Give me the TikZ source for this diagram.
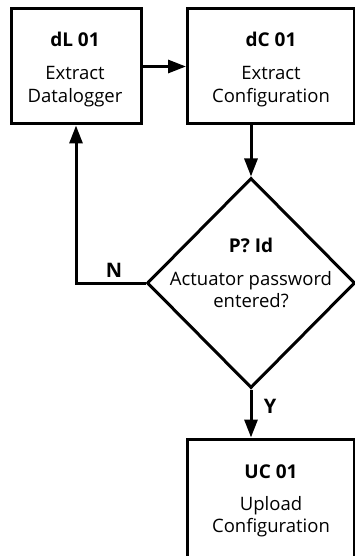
\documentclass[tikz,border=0pt]{standalone}
\usepackage{fontspec}
\setmainfont{Open Sans}
\usetikzlibrary{arrows.meta,shapes.geometric}
\newcommand\myfnt{\fontsize{18.5}{22}\selectfont}
\newcommand\myhead{\fontsize{19}{22}\selectfont\bfseries}
\newcommand\mylbl{\fontsize{20}{22}\selectfont\bfseries}
\begin{document}
\begin{tikzpicture}[x=1pt,y=-1pt,
  box/.style={draw,line width=3pt,rectangle,inner sep=0pt},
  txt/.style={inner sep=0pt,anchor=base,font=\myfnt},
  head/.style={inner sep=0pt,anchor=base,font=\myhead},
  lbl/.style={inner sep=0pt,anchor=base,font=\mylbl},
  arr/.style={line width=3pt,-{Triangle[length=18pt,width=13pt]}}]
\useasboundingbox (0,0) rectangle (355,556);
\clip (0,0) rectangle (355,556);
% boxes
\node[box,minimum width=130pt,minimum height=115pt] (dL) at (76,66.5) {};
\node[box,minimum width=166.5pt,minimum height=115pt] (dC) at (270.75,66.5) {};
\node[draw,line width=3pt,shape=diamond,minimum width=208pt,minimum height=210pt,inner sep=0pt] (dia) at (251,283) {};
\node[box,minimum width=166.5pt,minimum height=120pt] (UC) at (270.75,499) {};
% texts
\node[head] (dLh) at (75,47) {dL 01};
\node[txt] (dL1) at (75,80) {Extract};
\node[txt] (dL2) at (75,103) {Datalogger};
\node[head] (dCh) at (271,47) {dC 01};
\node[txt] (dC1) at (271,80) {Extract};
\node[txt] (dC2) at (271,103) {Configuration};
\node[head] (diah) at (251,252) {P? Id};
\node[txt] (dia1) at (251,285) {Actuator password};
\node[txt] (dia2) at (251,307) {entered?};
\node[head] (UCh) at (271,478) {UC 01};
\node[txt] (UC1) at (271,510) {Upload};
\node[txt] (UC2) at (271,532) {Configuration};
% connectors
\draw[arr] (dL.east) -- (dC.west);
\draw[arr] (dia.north |- dC.south) -- (dia.north);
\draw[arr] (dia.west) -| (dL.south);
\draw[arr] (dia.south) -- (dia.south |- UC.north);
\node[lbl] (N) at (114,277) {N};
\node[lbl] (Y) at (270,413) {Y};
\end{tikzpicture}
\end{document}
